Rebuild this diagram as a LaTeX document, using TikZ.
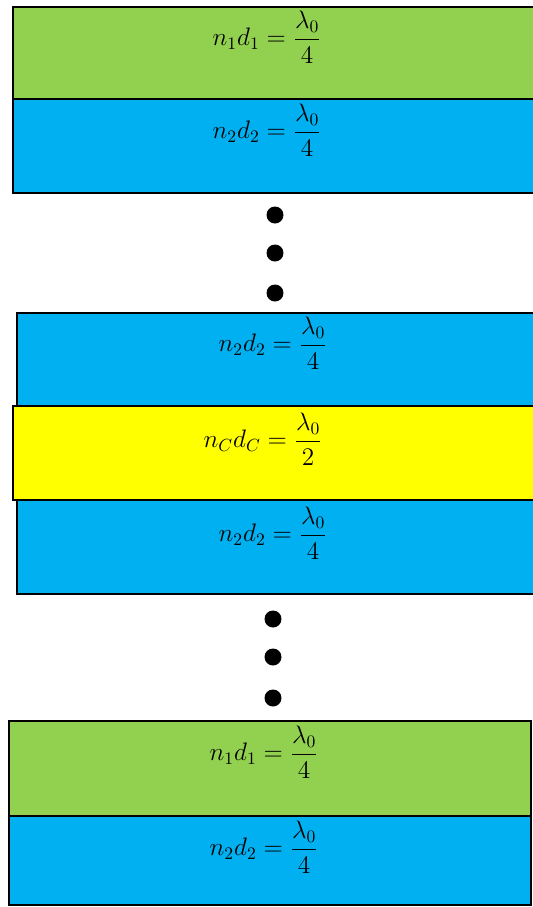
\documentclass[tikz,border=0pt]{standalone}
\usepackage{amsmath}
\definecolor{layergreen}{RGB}{146,208,80}
\definecolor{layerblue}{RGB}{0,176,240}
\definecolor{layeryellow}{RGB}{255,255,0}
\tikzset{
  layer/.style={draw=black, line width=1.4pt},
  eqn/.style={font=\Large},
  stackdot/.style={circle, fill=black, inner sep=0pt, minimum size=0.34cm}
}
\begin{document}
\begin{tikzpicture}[x=0.02cm, y=-0.02cm]
        \useasboundingbox (0,0) rectangle (533,907);
        \clip (0,0) rectangle (533,907);

        % First pair of layers
        \draw[layer, fill=layergreen] (13,7) rectangle (545,99);
        \node[eqn] (topone) at (267,37) {$\displaystyle n_1d_1=\frac{\lambda_0}{4}$};
        \draw[layer, fill=layerblue] (13,99) rectangle (545,193);
        \node[eqn] (toptwo) at (267,130) {$\displaystyle n_2d_2=\frac{\lambda_0}{4}$};

        % Repeated pairs
        \node[stackdot] (dotA) at (275,215) {};
        \node[stackdot] (dotB) at (275,253) {};
        \node[stackdot] (dotC) at (275,293) {};

        % The cavity and its neighbours
        \draw[layer, fill=layerblue] (17,313) rectangle (545,406);
        \node[eqn] (uppertwo) at (273,343) {$\displaystyle n_2d_2=\frac{\lambda_0}{4}$};
        \draw[layer, fill=layerblue] (17,500) rectangle (545,594);
        \node[eqn] (lowertwo) at (273,533) {$\displaystyle n_2d_2=\frac{\lambda_0}{4}$};
        \draw[layer, fill=layeryellow] (13,406) rectangle (545,500);
        \node[eqn] (cavity) at (263,439) {$\displaystyle n_Cd_C=\frac{\lambda_0}{2}$};

        % Repeated pairs
        \node[stackdot] (dotD) at (273,619) {};
        \node[stackdot] (dotE) at (273,657) {};
        \node[stackdot] (dotF) at (273,698) {};

        % Last pair of layers
        \draw[layer, fill=layergreen] (9,721) rectangle (531,816);
        \node[eqn] (bottomone) at (264,752) {$\displaystyle n_1d_1=\frac{\lambda_0}{4}$};
        \draw[layer, fill=layerblue] (9,816) rectangle (531,905);
        \node[eqn] (bottomtwo) at (264,847) {$\displaystyle n_2d_2=\frac{\lambda_0}{4}$};
\end{tikzpicture}
\end{document}
